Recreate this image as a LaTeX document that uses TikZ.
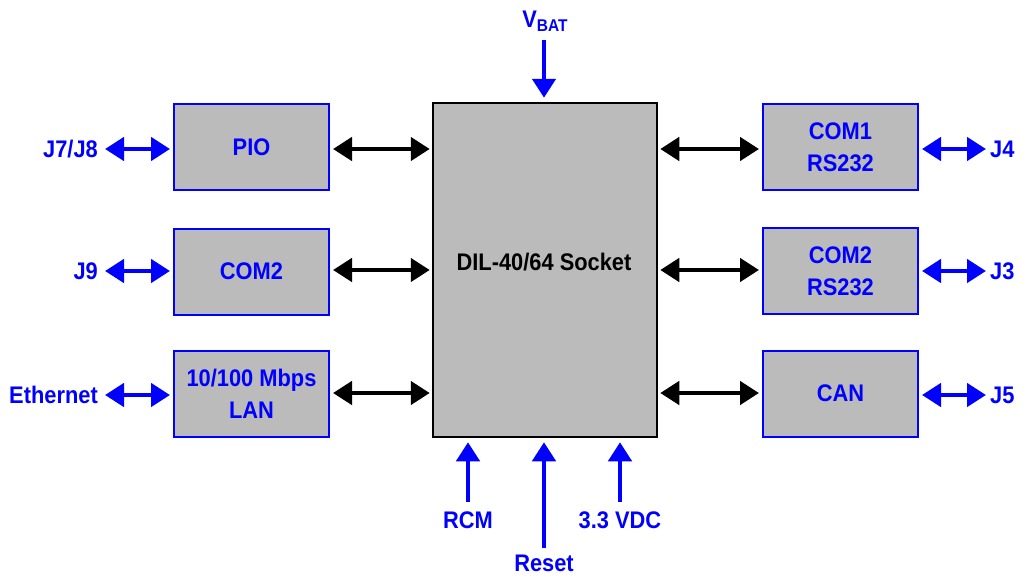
\documentclass[tikz,border=0pt]{standalone}
\usepackage{fontspec}
\setmainfont{Liberation Sans}[FakeStretch=0.91]
\usetikzlibrary{arrows.meta}
\definecolor{boxgray}{RGB}{187,187,187}
\definecolor{pureblue}{RGB}{0,0,255}
\tikzset{
  lbl/.style={font=\fontsize{24}{32}\selectfont\bfseries, text=pureblue, inner sep=0pt, align=center},
  sidebox/.style={draw=pureblue, line width=2pt, fill=boxgray, minimum width=155pt, minimum height=86pt, inner sep=0pt, lbl},
  mainbox/.style={draw=black, line width=2.5pt, fill=boxgray, minimum width=224pt, minimum height=334pt, inner sep=0pt},
  tipb/.tip={Triangle[length=19pt,width=23pt]},
  barrow/.style={line width=4.5pt, black, tipb-tipb},
  bluearrow/.style={line width=4.5pt, pureblue, tipb-tipb},
  bluein/.style={line width=4.5pt, pureblue, -tipb},
}
\begin{document}
\begin{tikzpicture}[x=1pt,y=-1pt]
\useasboundingbox[fill=white] (0,0) rectangle (1026,581);
% main box
\node[mainbox] (main) at (545,270) {};
\node[lbl, text=black] (maintxt) at (544,262) {DIL-40/64 Socket};
% left boxes
\node[sidebox] (pio) at (251.5,147) {PIO};
\node[sidebox] (comL) at (251.5,271.5) {COM2};
\node[sidebox] (lan) at (251.5,393.5) {10/100 Mbps\\LAN};
% right boxes
\node[sidebox] (com1) at (840.5,147) {COM1\\RS232};
\node[sidebox] (com2) at (840.5,271) {COM2\\RS232};
\node[sidebox] (can) at (840.5,393.5) {CAN};
% black arrows
\coordinate (m1) at (main.west |- 0,149);
\coordinate (m2) at (main.west |- 0,270);
\coordinate (m3) at (main.west |- 0,393);
\coordinate (n1) at (main.east |- 0,149);
\coordinate (n2) at (main.east |- 0,270);
\coordinate (n3) at (main.east |- 0,393);
\draw[barrow, shorten <=3pt, shorten >=2pt] (pio.east |- m1) -- (m1);
\draw[barrow, shorten <=3pt, shorten >=2pt] (comL.east |- m2) -- (m2);
\draw[barrow, shorten <=3pt, shorten >=2pt] (lan.east |- m3) -- (m3);
\draw[barrow, shorten <=2pt, shorten >=3pt] (n1) -- (com1.west |- n1);
\draw[barrow, shorten <=2pt, shorten >=3pt] (n2) -- (com2.west |- n2);
\draw[barrow, shorten <=2pt, shorten >=3pt] (n3) -- (can.west |- n3);
% left labels
\node[lbl, anchor=east] (j78) at (98,149) {J7/J8};
\node[lbl, anchor=east] (j9) at (98,271) {J9};
\node[lbl, anchor=east] (eth) at (98,395) {Ethernet};
\draw[bluearrow, shorten <=7pt, shorten >=3pt] (j78.east) -- (pio.west |- j78.east);
\draw[bluearrow, shorten <=7pt, shorten >=3pt] (j9.east) -- (comL.west |- j9.east);
\draw[bluearrow, shorten <=7pt, shorten >=3pt] (eth.east) -- (lan.west |- eth.east);
% right labels
\node[lbl, anchor=west] (j4) at (990,149) {J4};
\node[lbl, anchor=west] (j3) at (990,271) {J3};
\node[lbl, anchor=west] (j5) at (990,395) {J5};
\draw[bluearrow, shorten <=3pt, shorten >=4pt] (com1.east |- j4.west) -- (j4.west);
\draw[bluearrow, shorten <=3pt, shorten >=4pt] (com2.east |- j3.west) -- (j3.west);
\draw[bluearrow, shorten <=3pt, shorten >=4pt] (can.east |- j5.west) -- (j5.west);
% top VBAT
\node[lbl] (vbat) at (545,21) {V\raisebox{-4pt}{\fontsize{17}{17}\selectfont BAT}};
\coordinate (vtop) at (544,40);
\draw[bluein, shorten >=4pt] (vtop) -- (vtop |- main.north);
% bottom inputs
\node[lbl] (rcm) at (468,520) {RCM};
\node[lbl] (reset) at (544,563) {Reset};
\node[lbl] (vdc) at (620,520) {3.3 VDC};
\coordinate (rcmt) at (468,502);
\coordinate (rest) at (544,548);
\coordinate (vdct) at (620,502);
\draw[bluein, shorten >=4pt] (rcmt) -- (rcmt |- main.south);
\draw[bluein, shorten >=4pt] (rest) -- (rest |- main.south);
\draw[bluein, shorten >=4pt] (vdct) -- (vdct |- main.south);
\end{tikzpicture}
\end{document}
